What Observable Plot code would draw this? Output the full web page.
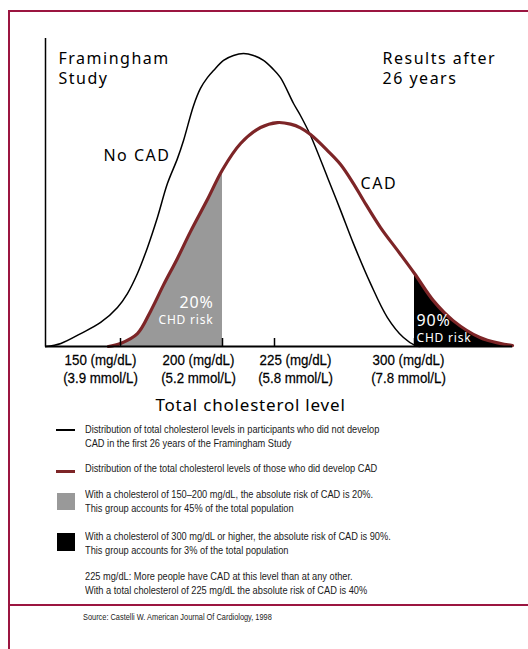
<!DOCTYPE html>
<html>
<head>
<meta charset="utf-8">
<script src="https://cdn.jsdelivr.net/npm/d3@7"></script>
<script src="https://cdn.jsdelivr.net/npm/@observablehq/plot@0.6"></script>
<style>
  html, body { margin: 0; padding: 0; background: #fff; }
  body { width: 528px; height: 649px; overflow: hidden; position: relative; font-family: "Liberation Sans", Arial, sans-serif; color: #000; }
  #chart { position: absolute; left: 0; top: 0; }
  #frame { position: absolute; left: 8px; top: 10px; width: 600px; height: 700px; border-left: 2px solid #9b1540; border-top: 2px solid #9b1540; box-sizing: border-box; }
  #rule { position: absolute; left: 8px; top: 604px; width: 600px; height: 2px; background: #9b1540; }
  .lg { position: absolute; left: 85px; font-family: "Liberation Sans", Arial, sans-serif; font-size: 11px; line-height: 13.5px; color: #1a1a1a; white-space: nowrap; transform: scaleX(0.84); transform-origin: 0 0; }
  .sw { position: absolute; left: 57px; width: 18px; }
  #source { position: absolute; left: 83px; top: 612px; font-family: "Liberation Sans", Arial, sans-serif; font-size: 8.8px; line-height: 10px; color: #1a1a1a; white-space: nowrap; transform: scaleX(0.84); transform-origin: 0 0; }
  g[aria-description="big"] text { letter-spacing: 1.5px; }
  g[aria-description="risk"] text { letter-spacing: 0.8px; }
  g[aria-description="axislabel"] text { letter-spacing: 0.8px; }
</style>
</head>
<body>
<div id="chart"></div>
<div id="frame"></div>
<div id="rule"></div>

<div class="sw" style="top:429px;height:1.5px;background:#000;left:56px;width:19px;"></div>
<div class="lg" style="top:423px;">Distribution of total cholesterol levels in participants who did not develop<br>CAD in the first 26 years of the Framingham Study</div>

<div class="sw" style="top:469.5px;height:3px;background:#7d2527;left:56px;width:19px;"></div>
<div class="lg" style="top:462px;">Distribution of the total cholesterol levels of those who did develop CAD</div>

<div class="sw" style="top:493px;height:17px;background:#999;"></div>
<div class="lg" style="top:488px;">With a cholesterol of 150–200 mg/dL, the absolute risk of CAD is 20%.<br>This group accounts for 45% of the total population</div>

<div class="sw" style="top:533px;height:18px;background:#000;"></div>
<div class="lg" style="top:530px;">With a cholesterol of 300 mg/dL or higher, the absolute risk of CAD is 90%.<br>This group accounts for 3% of the total population</div>

<div class="lg" style="top:570px;">225 mg/dL: More people have CAD at this level than at any other.<br>With a total cholesterol of 225 mg/dL the absolute risk of CAD is 40%</div>

<div id="source">Source: Castelli W. American Journal Of Cardiology, 1998</div>

<script>
// ---- Data (cholesterol in mg/dL, relative frequency in arbitrary units 0–100) ----
const noCadX = [113, 120.6, 130.4, 140.2, 148.5, 153.4, 158.3, 163.2, 168.1, 173.0, 177.9, 180.9, 185.8, 189.2, 192.6, 195.6, 200.5, 205.3, 210.1, 214.9, 219.7, 224.0, 228.2, 235.2, 238.9, 244.3, 253.4, 260.4, 267.3, 276.4, 285.5, 294.1, 300.5, 303];
const noCadY = [0, 1.0, 4.2, 7.8, 12.7, 17.2, 23.7, 32.1, 41.9, 52.9, 61.0, 66.9, 78.2, 83.8, 87.3, 89.6, 92.9, 94.5, 95.1, 94.5, 92.9, 90.3, 87.3, 78.9, 75.0, 68.5, 54.9, 44.2, 33.4, 20.5, 9.4, 2.9, 0.3, 0];

const cadX = [144, 150, 158.3, 164.7, 171.1, 177.9, 184.3, 192.6, 200, 208.7, 218.3, 226.6, 233.6, 238.9, 244.3, 253.4, 260.4, 267.3, 272.7, 281.8, 290.9, 300, 310.2, 320.9, 335.4, 346.1, 353];
const cadY = [0, 1.0, 4.2, 11.4, 20.0, 28.6, 37.3, 47.7, 57.4, 65.9, 71.1, 72.7, 72.2, 71.0, 68.8, 63.6, 59.1, 52.9, 47.4, 38.6, 31.2, 23.7, 14.9, 8.4, 2.9, 1.0, 0.3];

const tickValues = [150, 200, 225, 300];
const tickLabels = ["150 (mg/dL)\n(3.9 mmol/L)", "200 (mg/dL)\n(5.2 mmol/L)", "225 (mg/dL)\n(5.8 mmol/L)", "300 (mg/dL)\n(7.8 mmol/L)"];
const grayRange = [150, 200];   // 20% CHD risk band
const blackFrom = 300;          // 90% CHD risk band

// ---- Build tables ----
const noCad = noCadX.map((x, i) => ({x, y: noCadY[i]}));
const cad = cadX.map((x, i) => ({x, y: cadY[i]}));
const ticks = tickValues.map((v, i) => ({v, label: tickLabels[i]}));
const xMin = noCadX[0], xMax = cadX[cadX.length - 1];

const curve = "catmull-rom";
const labelShift = [-20, -24, 21, -6];

const plot = Plot.plot({
  width: 528,
  height: 420,
  marginTop: 38,
  marginBottom: 74,
  marginLeft: 45,
  marginRight: 16,
  style: {background: "transparent", overflow: "visible"},
  x: {type: "linear", domain: [xMin, 150, 200, 225, 300, xMax], range: [45, 120, 222, 274, 414, 512], axis: null},
  y: {domain: [0, 100], axis: null},
  marks: [
    Plot.areaY(cad.filter(d => d.x >= grayRange[0] && d.x <= grayRange[1]), {x: "x", y: "y", fill: "#999", curve}),
    Plot.areaY(cad.filter(d => d.x >= blackFrom), {x: "x", y: "y", fill: "#000", curve}),
    Plot.line(noCad, {x: "x", y: "y", stroke: "#000", strokeWidth: 1.5, curve}),
    Plot.line(cad, {x: "x", y: "y", stroke: "#7d2527", strokeWidth: 3.2, curve}),
    Plot.ruleY([0], {x1: xMin, x2: xMax, stroke: "#000", strokeWidth: 2}),
    Plot.ruleX([xMin], {y1: 0, y2: 100, stroke: "#000", strokeWidth: 1.5}),
    Plot.ruleX(tickValues, {y1: 0, y2: 2.6, stroke: "#000", strokeWidth: 1.5}),
    ...ticks.map((t, i) => Plot.text([t], {
      x: "v", text: "label", frameAnchor: "bottom", lineAnchor: "bottom", dy: 36, dx: labelShift[i],
      fontSize: 15.5, lineHeight: 1.1, fill: "#000", stroke: "#000", strokeWidth: 0.25,
      fontFamily: '"Liberation Sans", Arial, sans-serif', ariaDescription: "ticklabel"
    })),
    Plot.text(["Total cholesterol level"], {frameAnchor: "bottom-left", dx: 205, dy: 64, lineAnchor: "bottom", textAnchor: "middle", fontSize: 17, fill: "#000", ariaDescription: "axislabel"}),
    Plot.text(["Framingham\nStudy"], {frameAnchor: "top-left", dx: 13, dy: 45, textAnchor: "start", lineAnchor: "bottom", lineHeight: 1.25, fontSize: 16, fill: "#000", ariaDescription: "big"}),
    Plot.text(["Results after\n26 years"], {frameAnchor: "top-left", dx: 337, dy: 45, textAnchor: "start", lineAnchor: "bottom", lineHeight: 1.25, fontSize: 16, fill: "#000", ariaDescription: "big"}),
    Plot.text(["No CAD"], {x: 174.5, y: 60.2, textAnchor: "end", lineAnchor: "bottom", fontSize: 16, fill: "#000", ariaDescription: "big"}),
    Plot.text(["CAD"], {x: 271.1, y: 51.0, textAnchor: "start", lineAnchor: "bottom", fontSize: 16, fill: "#000", ariaDescription: "big"}),
    Plot.text(["20%"], {x: grayRange[1], y: 12.6, dx: -9, textAnchor: "end", lineAnchor: "bottom", fontSize: 16, fill: "#fff", ariaDescription: "risk"}),
    Plot.text(["CHD risk"], {x: grayRange[1], y: 7.3, dx: -9, textAnchor: "end", lineAnchor: "bottom", fontSize: 12, fill: "#fff", ariaDescription: "risk"}),
    Plot.text(["90%"], {x: blackFrom, y: 6.5, dx: 2, textAnchor: "start", lineAnchor: "bottom", fontSize: 16, fill: "#fff", ariaDescription: "risk"}),
    Plot.text(["CHD risk"], {x: blackFrom, y: 1.3, dx: 2, textAnchor: "start", lineAnchor: "bottom", fontSize: 12, fill: "#fff", ariaDescription: "risk"})
  ]
});
// condense the tick labels horizontally around their anchor
d3.select(plot).selectAll('g[aria-description="ticklabel"] text').each(function () {
  const t = this.getAttribute("transform") || "";
  this.setAttribute("transform", t + " scale(0.86,1)");
});
document.getElementById("chart").appendChild(plot);
</script>
</body>
</html>
